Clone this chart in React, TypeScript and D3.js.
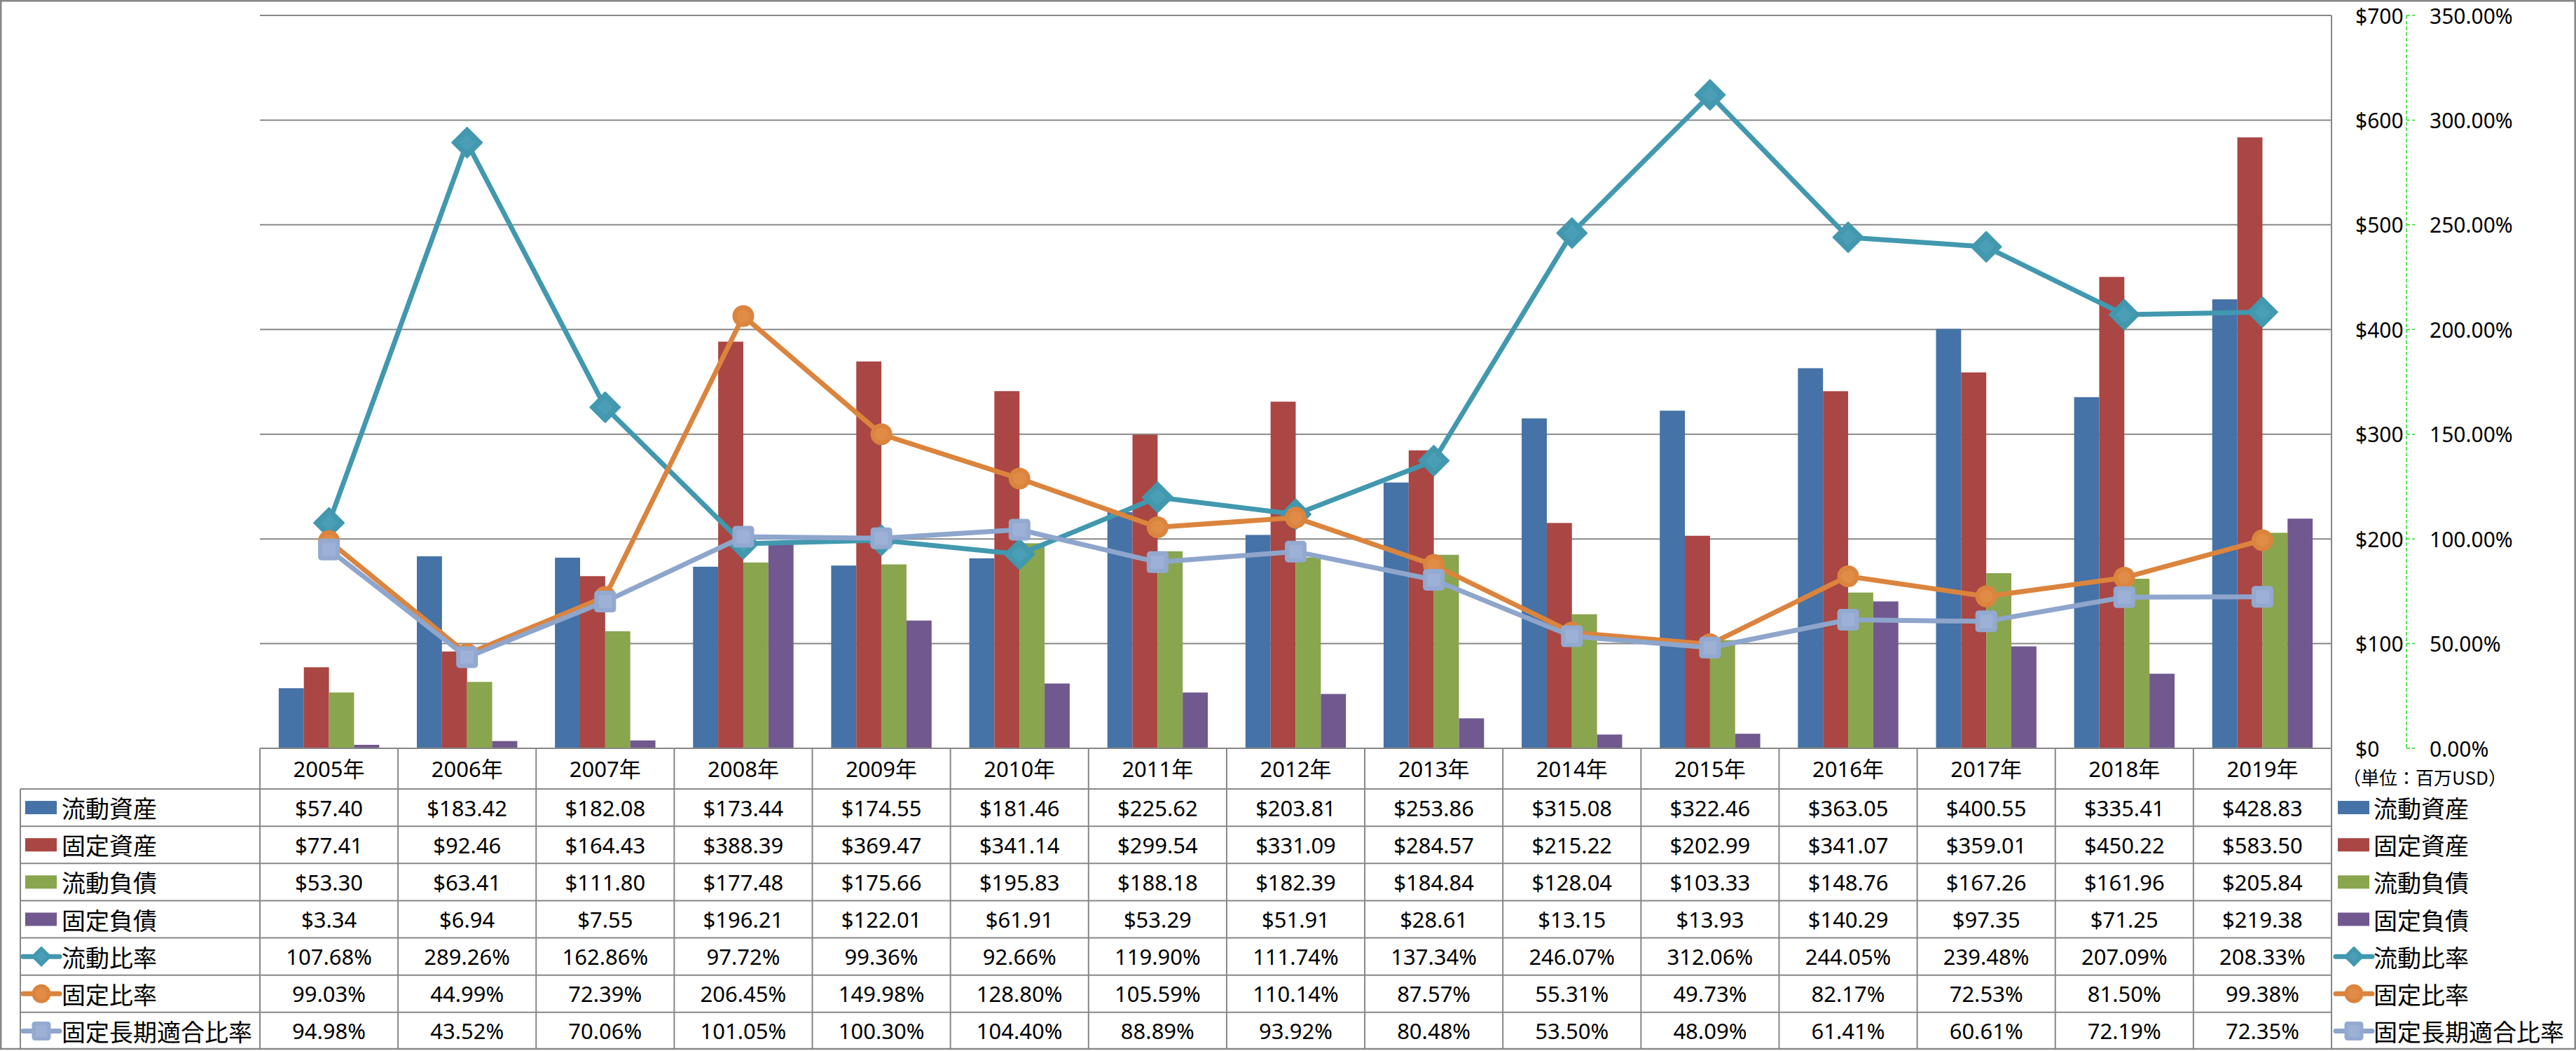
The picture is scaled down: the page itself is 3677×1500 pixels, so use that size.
import React from 'react';
import * as d3 from 'd3';

const years = ['2005年','2006年','2007年','2008年','2009年','2010年','2011年','2012年','2013年','2014年','2015年','2016年','2017年','2018年','2019年'];

const barNames = ['流動資産', '固定資産', '流動負債', '固定負債'];
const barColors = ['#4572A7', '#AA4643', '#89A54E', '#71588F'];
const currentAssets = [57.40, 183.42, 182.08, 173.44, 174.55, 181.46, 225.62, 203.81, 253.86, 315.08, 322.46, 363.05, 400.55, 335.41, 428.83];
const fixedAssets = [77.41, 92.46, 164.43, 388.39, 369.47, 341.14, 299.54, 331.09, 284.57, 215.22, 202.99, 341.07, 359.01, 450.22, 583.50];
const currentLiab = [53.30, 63.41, 111.80, 177.48, 175.66, 195.83, 188.18, 182.39, 184.84, 128.04, 103.33, 148.76, 167.26, 161.96, 205.84];
const fixedLiab = [3.34, 6.94, 7.55, 196.21, 122.01, 61.91, 53.29, 51.91, 28.61, 13.15, 13.93, 140.29, 97.35, 71.25, 219.38];
const barValues = [currentAssets, fixedAssets, currentLiab, fixedLiab];

const lineNames = ['流動比率', '固定比率', '固定長期適合比率'];
const lineColors = ['#4198AF', '#DB843D', '#93A9CF'];
const lineInner = ['#4A9FB6', '#E08C47', '#9DB1D6'];
const lineStroke = ['#4198AF', '#DB843D', '#8EA5CC'];
const currentRatio = [107.68, 289.26, 162.86, 97.72, 99.36, 92.66, 119.90, 111.74, 137.34, 246.07, 312.06, 244.05, 239.48, 207.09, 208.33];
const fixedRatio = [99.03, 44.99, 72.39, 206.45, 149.98, 128.80, 105.59, 110.14, 87.57, 55.31, 49.73, 82.17, 72.53, 81.50, 99.38];
const longTermRatio = [94.98, 43.52, 70.06, 101.05, 100.30, 104.40, 88.89, 93.92, 80.48, 53.50, 48.09, 61.41, 60.61, 72.19, 72.35];
const lineValues = [currentRatio, fixedRatio, longTermRatio];
const lineMarkers = ['diamond', 'circle', 'square'];

const dollarTicks = [0, 100, 200, 300, 400, 500, 600, 700];
const pctTicks = [0, 50, 100, 150, 200, 250, 300, 350];
const unitLabel = '（単位：百万USD）';

const W = 3677, H = 1500;
const plotL = 371, plotR = 3328, plotT = 22, plotB = 1068;
const headerB = 1126;
const rowH = (1498 - headerB) / 7;
const tableL = 29;
const gridColor = '#878787';
const latin = '"Noto Sans", "Noto Sans CJK JP", sans-serif';
const cjk = '"Noto Sans CJK JP", "Noto Sans", sans-serif';

function Marker({ kind, x, y, size, color, inner }: any) {
  if (kind === 'diamond') {
    const r = size / 2;
    const ri = r * 0.55;
    return (
      <g transform={`translate(${x},${y})`}>
        <path d={`M0,${-r}L${r},0L0,${r}L${-r},0Z`} fill={color} stroke={color} strokeWidth={2} strokeLinejoin="round" />
        <path d={`M0,${-ri}L${ri},0L0,${ri}L${-ri},0Z`} fill={inner} />
      </g>
    );
  }
  if (kind === 'circle') {
    return (
      <g transform={`translate(${x},${y})`}>
        <circle r={size / 2} fill={color} />
        <circle r={size * 0.3} fill={inner} />
      </g>
    );
  }
  const s = size;
  return (
    <g transform={`translate(${x},${y})`}>
      <rect x={-s / 2} y={-s / 2} width={s} height={s} rx={s * 0.16} fill={color} />
      <rect x={-s * 0.3} y={-s * 0.3} width={s * 0.6} height={s * 0.6} fill={inner} />
    </g>
  );
}

export default function App() {
  const x = d3.scaleBand<string>().domain(years).range([plotL, plotR]).paddingInner(0).paddingOuter(0);
  const bw = x.bandwidth();
  const barW = bw / 5.5;
  const xs = d3.scaleBand<string>().domain(barNames).range([(bw - 4 * barW) / 2, (bw + 4 * barW) / 2]);
  const y = d3.scaleLinear().domain([0, 700]).range([plotB, plotT]);
  const yp = d3.scaleLinear().domain([0, 350]).range([plotB, plotT]);
  const cx = (yr: string) => (x(yr) as number) + bw / 2;

  const lineGen = d3.line<number>().x((_, i) => cx(years[i])).y((v) => yp(v));

  const rowCenter = (i: number) => headerB + rowH * (i + 0.5);
  const allRows = [
    ...barNames.map((n, i) => ({ name: n, type: 'bar', idx: i, vals: barValues[i].map((v) => `$${v.toFixed(2)}`) })),
    ...lineNames.map((n, i) => ({ name: n, type: 'line', idx: i, vals: lineValues[i].map((v) => `${v.toFixed(2)}%`) })),
  ];

  const legendSymbol = (row: any, lx: number, cyv: number) => {
    if (row.type === 'bar') {
      return <rect x={lx} y={cyv - 9.5} width={45} height={19} fill={barColors[row.idx]} />;
    }
    return (
      <g>
        <line x1={lx - 3} x2={lx + 49} y1={cyv} y2={cyv} stroke={lineStroke[row.idx]} strokeWidth={7} strokeLinecap="round" />
        <Marker kind={lineMarkers[row.idx]} x={lx + 23} y={cyv} size={27} color={lineColors[row.idx]} inner={lineInner[row.idx]} />
      </g>
    );
  };

  return (
    <svg width={W} height={H} style={{ position: 'absolute', left: 0, top: 0, background: '#fff' }}>
      <rect x={0} y={0} width={W} height={H} fill="#fff" />
      {/* gridlines */}
      {dollarTicks.filter((t) => t > 0).map((t) => (
        <line key={t} x1={plotL} x2={plotR} y1={y(t)} y2={y(t)} stroke={gridColor} strokeWidth={2} />
      ))}
      {/* bars */}
      {barValues.map((vals, si) => (
        <g key={si}>
          {vals.map((v, i) => (
            <rect key={i} x={(x(years[i]) as number) + (xs(barNames[si]) as number)} y={y(v)} width={xs.bandwidth()} height={plotB - y(v)} fill={barColors[si]} />
          ))}
        </g>
      ))}
      {/* table grid */}
      <line x1={plotL} x2={plotR} y1={plotB} y2={plotB} stroke={gridColor} strokeWidth={2} />
      {d3.range(7).map((i) => (
        <line key={'h' + i} x1={tableL} x2={plotR} y1={headerB + rowH * i} y2={headerB + rowH * i} stroke={gridColor} strokeWidth={2} />
      ))}
      <line x1={tableL} x2={tableL} y1={headerB} y2={1498} stroke={gridColor} strokeWidth={2} />
      {years.map((yr) => (
        <line key={'v' + yr} x1={x(yr) as number} x2={x(yr) as number} y1={plotB} y2={1498} stroke={gridColor} strokeWidth={2} />
      ))}
      <line x1={plotR} x2={plotR} y1={plotT} y2={1498} stroke={gridColor} strokeWidth={2} />
      {/* lines */}
      {lineValues.map((vals, li) => (
        <g key={'l' + li}>
          <path d={lineGen(vals) as string} fill="none" stroke={lineStroke[li]} strokeWidth={7} strokeLinejoin="round" />
          {vals.map((v, i) => (
            <Marker key={i} kind={lineMarkers[li]} x={cx(years[i])} y={yp(v)} size={li === 0 ? 43 : 31} color={lineColors[li]} inner={lineInner[li]} />
          ))}
        </g>
      ))}
      {/* right axes */}
      <line x1={3435} x2={3435} y1={plotT} y2={plotB} stroke="#22dd22" strokeWidth={1.5} strokeDasharray="5,3" />
      {dollarTicks.map((t) => (
        <line key={'tk' + t} x1={3435} x2={3447} y1={y(t)} y2={y(t)} stroke="#22dd22" strokeWidth={1.5} strokeDasharray="5,3" />
      ))}
      {dollarTicks.map((t) => (
        <text key={'d' + t} x={3362} y={y(t)} dominantBaseline="central" fontFamily={latin} fontSize={30} fill="#000">{`$${t}`}</text>
      ))}
      {pctTicks.map((t) => (
        <text key={'p' + t} x={3468} y={yp(t)} dominantBaseline="central" fontFamily={latin} fontSize={30} fill="#000">{`${t.toFixed(2)}%`}</text>
      ))}
      <text x={3461} y={1108} textAnchor="middle" dominantBaseline="central" fontFamily={cjk} fontSize={26} fill="#000">{unitLabel}</text>
      {/* table header */}
      {years.map((yr) => (
        <text key={'hd' + yr} x={cx(yr)} y={(plotB + headerB) / 2} textAnchor="middle" dominantBaseline="central" fontFamily={latin} fontSize={31} fill="#000">{yr}</text>
      ))}
      {/* table rows */}
      {allRows.map((row, ri) => (
        <g key={'r' + ri}>
          {legendSymbol(row, 36, rowCenter(ri))}
          <text x={88} y={rowCenter(ri)} dominantBaseline="central" fontFamily={cjk} fontSize={34} fill="#000">{row.name}</text>
          {row.vals.map((v: string, i: number) => (
            <text key={i} x={cx(years[i])} y={rowCenter(ri)} textAnchor="middle" dominantBaseline="central" fontFamily={latin} fontSize={31} fill="#000">{v}</text>
          ))}
          {legendSymbol(row, 3337, rowCenter(ri))}
          <text x={3388} y={rowCenter(ri)} dominantBaseline="central" fontFamily={cjk} fontSize={34} fill="#000">{row.name}</text>
        </g>
      ))}
      {/* outer frame */}
      <rect x={1.25} y={1.25} width={W - 2.5} height={1497 - 1.25} fill="none" stroke={gridColor} strokeWidth={2.5} />
    </svg>
  );
}
